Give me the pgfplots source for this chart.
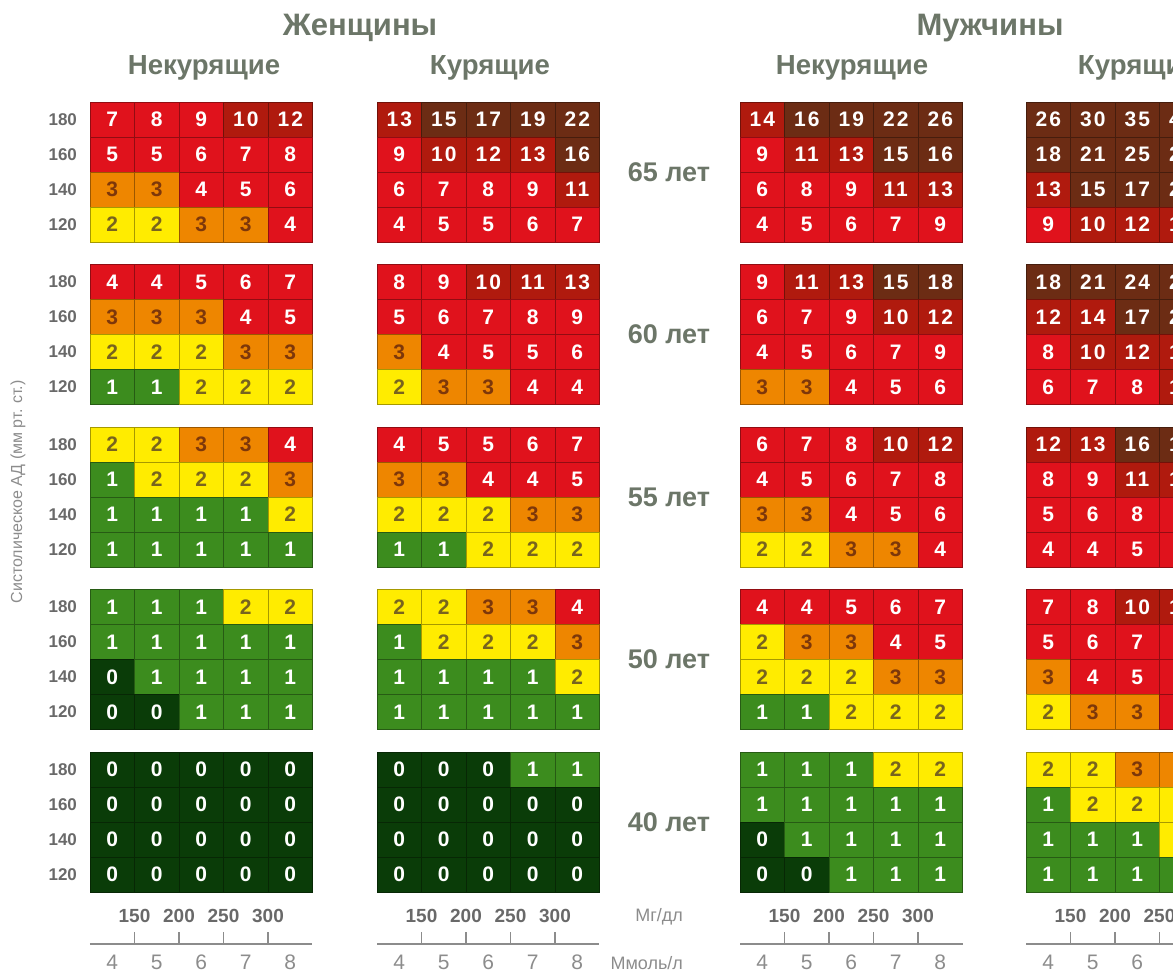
\documentclass[border=0pt]{standalone}
\usepackage{pgfplots}
\pgfplotsset{compat=1.18}
\usepackage{pgfplotstable}
\usepackage{fontspec}
\setmainfont{Liberation Sans}
\newfontfamily\cellfont[LetterSpace=10]{Liberation Sans}

\definecolor{cDG}{RGB}{10,60,8}
\definecolor{cG}{RGB}{60,140,30}
\definecolor{cY}{RGB}{255,236,0}
\definecolor{cO}{RGB}{238,134,0}
\definecolor{cR}{RGB}{224,18,28}
\definecolor{cDR}{RGB}{176,26,14}
\definecolor{cBr}{RGB}{108,44,20}
\definecolor{txtY}{RGB}{120,100,30}
\definecolor{txtO}{RGB}{125,55,10}
\definecolor{ttl}{RGB}{108,118,104}
\definecolor{tgray}{RGB}{105,105,105}
\definecolor{lgray}{RGB}{140,140,140}

\newcommand\cellnum[1]{%
  \pgfmathfloattoint{#1}\let\cv\pgfmathresult
  \ifnum\cv=2 \textcolor{txtY}{\cv}\else
  \ifnum\cv=3 \textcolor{txtO}{\cv}\else
  \textcolor{white}{\cv}\fi\fi}

% risk class colour: 0 | 1 | 2 | 3 | 4-9 | 10-14 | >=15
\newcommand\setcellcolor[1]{%
  \ifnum#1<1 \def\cc{cDG}\else
  \ifnum#1<2 \def\cc{cG}\else
  \ifnum#1<3 \def\cc{cY}\else
  \ifnum#1<4 \def\cc{cO}\else
  \ifnum#1<10 \def\cc{cR}\else
  \ifnum#1<15 \def\cc{cDR}\else
  \def\cc{cBr}\fi\fi\fi\fi\fi\fi}

\tikzset{cellfill/.code={%
  \pgfmathfloattoint{\pgfplotspointmeta}\let\cvv\pgfmathresult
  \setcellcolor{\cvv}%
  \edef\tmpcell{\noexpand\pgfkeysalso{fill=\cc, draw=\cc!65!black}}\tmpcell}}

\newcommand\ypos{-(min((65-\thisrow{age})/5,4)*4.642857+(180-\thisrow{sbp})/20)}

% SCORE 10-year risk (%), columns c1..c5 = cholesterol 4..8 mmol/l
\pgfplotstableread{
age sbp c1 c2 c3 c4 c5
65 180 7 8 9 10 12
65 160 5 5 6 7 8
65 140 3 3 4 5 6
65 120 2 2 3 3 4
60 180 4 4 5 6 7
60 160 3 3 3 4 5
60 140 2 2 2 3 3
60 120 1 1 2 2 2
55 180 2 2 3 3 4
55 160 1 2 2 2 3
55 140 1 1 1 1 2
55 120 1 1 1 1 1
50 180 1 1 1 2 2
50 160 1 1 1 1 1
50 140 0 1 1 1 1
50 120 0 0 1 1 1
40 180 0 0 0 0 0
40 160 0 0 0 0 0
40 140 0 0 0 0 0
40 120 0 0 0 0 0
}\wns
\pgfplotstableread{
age sbp c1 c2 c3 c4 c5
65 180 13 15 17 19 22
65 160 9 10 12 13 16
65 140 6 7 8 9 11
65 120 4 5 5 6 7
60 180 8 9 10 11 13
60 160 5 6 7 8 9
60 140 3 4 5 5 6
60 120 2 3 3 4 4
55 180 4 5 5 6 7
55 160 3 3 4 4 5
55 140 2 2 2 3 3
55 120 1 1 2 2 2
50 180 2 2 3 3 4
50 160 1 2 2 2 3
50 140 1 1 1 1 2
50 120 1 1 1 1 1
40 180 0 0 0 1 1
40 160 0 0 0 0 0
40 140 0 0 0 0 0
40 120 0 0 0 0 0
}\ws
\pgfplotstableread{
age sbp c1 c2 c3 c4 c5
65 180 14 16 19 22 26
65 160 9 11 13 15 16
65 140 6 8 9 11 13
65 120 4 5 6 7 9
60 180 9 11 13 15 18
60 160 6 7 9 10 12
60 140 4 5 6 7 9
60 120 3 3 4 5 6
55 180 6 7 8 10 12
55 160 4 5 6 7 8
55 140 3 3 4 5 6
55 120 2 2 3 3 4
50 180 4 4 5 6 7
50 160 2 3 3 4 5
50 140 2 2 2 3 3
50 120 1 1 2 2 2
40 180 1 1 1 2 2
40 160 1 1 1 1 1
40 140 0 1 1 1 1
40 120 0 0 1 1 1
}\mns
\pgfplotstableread{
age sbp c1 c2 c3 c4 c5
65 180 26 30 35 41 47
65 160 18 21 25 29 34
65 140 13 15 17 20 24
65 120 9 10 12 14 17
60 180 18 21 24 28 33
60 160 12 14 17 20 24
60 140 8 10 12 14 17
60 120 6 7 8 10 12
55 180 12 13 16 19 22
55 160 8 9 11 13 16
55 140 5 6 8 9 11
55 120 4 4 5 6 8
50 180 7 8 10 12 14
50 160 5 6 7 8 10
50 140 3 4 5 6 7
50 120 2 3 3 4 5
40 180 2 2 3 3 4
40 160 1 2 2 2 3
40 140 1 1 1 2 2
40 120 1 1 1 1 1
}\msm

\pgfplotsset{
  panel/.style={
    scale only axis, width=111.25pt, height=421pt,
    xmin=0.5, xmax=5.5, ymin=-23.55714, ymax=0.5,
    anchor=north west, clip=false,
    axis x line=bottom, axis y line=left,
    x axis line style={-, draw=lgray, line width=0.6pt},
    y axis line style={draw=none},
    tick align=inside,
    major tick length=0pt,
    tick style={draw=lgray, line width=0.6pt},
    xtick={1,2,3,4,5}, xticklabels={4,5,6,7,8},
    xticklabel style={font=\fontsize{10.5}{12}\selectfont, text=lgray, yshift=-2pt},
    extra x ticks={1.5,2.5,3.5,4.5},
    extra x tick labels={150,200,250,300},
    extra x tick style={major tick length=6pt,
      xticklabel style={anchor=south, yshift=9pt, font=\bfseries\fontsize{9.5}{11}\selectfont, text=tgray}},
    ytick=\empty,
  },
  cells/.style={
    only marks, mark=none,
    point meta=\thisrow{c#1},
    nodes near coords={\cellnum{\pgfplotspointmeta}},
    nodes near coords align={center},
    every node near coord/.append style={font=\cellfont\bfseries\fontsize{10.5}{12}\selectfont,
      inner sep=0pt, minimum width=22.25pt, minimum height=17.5pt, line width=0.4pt, cellfill},
  },
}

\newcommand\panelplots[1]{%
  \addplot[cells=1] table[x expr=1, y expr=\ypos]{#1};
  \addplot[cells=2] table[x expr=2, y expr=\ypos]{#1};
  \addplot[cells=3] table[x expr=3, y expr=\ypos]{#1};
  \addplot[cells=4] table[x expr=4, y expr=\ypos]{#1};
  \addplot[cells=5] table[x expr=5, y expr=\ypos]{#1};
}

\begin{document}
\begin{tikzpicture}[x=0.5pt, y=0.5pt]
\path[use as bounding box] (0,0) rectangle (1173,-977);
\clip (0,0) rectangle (1173,-977);

\begin{axis}[panel, at={(45pt,-51pt)},
  ytick={0,-1,-2,-3,-4.642857,-5.642857,-6.642857,-7.642857,-9.285714,-10.285714,-11.285714,-12.285714,-13.928571,-14.928571,-15.928571,-16.928571,-18.571429,-19.571429,-20.571429,-21.571429},
  yticklabels={180,160,140,120,180,160,140,120,180,160,140,120,180,160,140,120,180,160,140,120},
  yticklabel style={font=\bfseries\fontsize{8.5}{10}\selectfont, text=tgray, xshift=-3pt},
  ylabel={Систолическое АД (мм рт. ст.)},
  every axis y label/.style={at={(axis description cs:-0.3236,0.537)}, rotate=90, anchor=center,
    font=\fontsize{8}{10}\selectfont, text=lgray},
]
\panelplots{\wns}
\end{axis}

\begin{axis}[panel, at={(188.5pt,-51pt)}]
\panelplots{\ws}
\end{axis}

\begin{axis}[panel, at={(370pt,-51pt)}]
\panelplots{\mns}
\end{axis}

\begin{axis}[panel, at={(513pt,-51pt)}]
\panelplots{\msm}
\end{axis}

\begin{scope}[text=ttl]
\node[font=\bfseries\fontsize{15.5}{18}\selectfont] at (360,-28) {Женщины};
\node[font=\bfseries\fontsize{15.5}{18}\selectfont] at (990,-28) {Мужчины};
\node[font=\bfseries\fontsize{13.8}{16}\selectfont] at (204,-68) {Некурящие};
\node[font=\bfseries\fontsize{13.8}{16}\selectfont] at (490,-68) {Курящие};
\node[font=\bfseries\fontsize{13.8}{16}\selectfont] at (852,-68) {Некурящие};
\node[font=\bfseries\fontsize{13.8}{16}\selectfont] at (1138,-68) {Курящие};
\foreach \yy/\lab in {172/65, 334.5/60, 497/55, 659.5/50, 822/40}
  \node[font=\bfseries\fontsize{13.5}{15}\selectfont] at (669,-\yy) {\lab\ лет};
\end{scope}
\node[anchor=east, font=\fontsize{9}{11}\selectfont, text=lgray] at (690,-917) {Мг/дл};
\node[anchor=east, font=\fontsize{9}{11}\selectfont, text=lgray] at (690,-963) {Ммоль/л};
\end{tikzpicture}
\end{document}
